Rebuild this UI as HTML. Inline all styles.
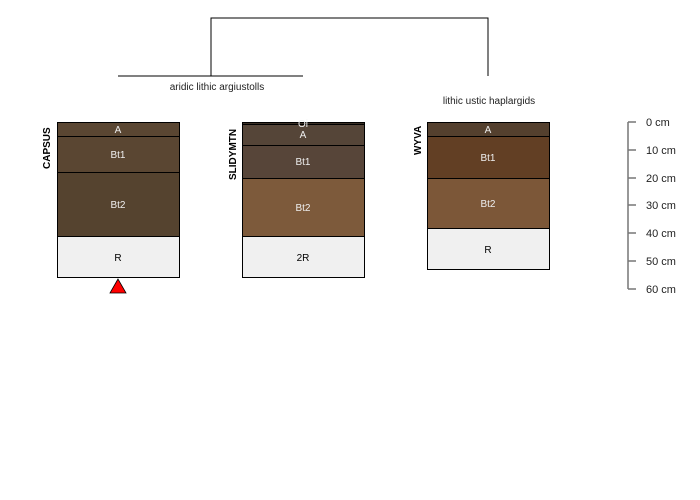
<!DOCTYPE html>
<html><head><style>html,body{margin:0;background:#fff;width:700px;height:500px;overflow:hidden}svg{display:block}</style></head><body>
<svg width="700" height="500" xmlns="http://www.w3.org/2000/svg" font-family="Liberation Sans, sans-serif">
<rect width="700" height="500" fill="#fff"/>
<g stroke="#000" stroke-width="1" fill="none" shape-rendering="crispEdges">
<path d="M211 76V18H488V76"/>
<path d="M118 76H303"/>
</g>
<text x="217" y="90" font-size="10" text-anchor="middle" fill="#222">aridic lithic argiustolls</text>
<text x="489" y="104" font-size="10" text-anchor="middle" fill="#222">lithic ustic haplargids</text>
<g stroke="#000" stroke-width="1" shape-rendering="crispEdges">
<rect x="57.5" y="122.5" width="122" height="14" fill="#5a4632"/>
<rect x="57.5" y="136.5" width="122" height="36" fill="#5a4632"/>
<rect x="57.5" y="172.5" width="122" height="64" fill="#55432f"/>
<rect x="57.5" y="236.5" width="122" height="41" fill="#f0f0f0"/>
<rect x="242.5" y="122.5" width="122" height="2" fill="#3a2f25"/>
<rect x="242.5" y="124.5" width="122" height="21" fill="#554538"/>
<rect x="242.5" y="145.5" width="122" height="33" fill="#574539"/>
<rect x="242.5" y="178.5" width="122" height="58" fill="#7d5a3b"/>
<rect x="242.5" y="236.5" width="122" height="41" fill="#f0f0f0"/>
<rect x="427.5" y="122.5" width="122" height="14" fill="#54402e"/>
<rect x="427.5" y="136.5" width="122" height="42" fill="#623f24"/>
<rect x="427.5" y="178.5" width="122" height="50" fill="#7c5738"/>
<rect x="427.5" y="228.5" width="122" height="41" fill="#f0f0f0"/>
</g>
<g font-size="10" text-anchor="middle" fill="#eee">
<text x="118" y="133">A</text><text x="118" y="158">Bt1</text><text x="118" y="208">Bt2</text>
<text x="118" y="261" fill="#000">R</text>
<text x="303" y="127">Oi</text><text x="303" y="138">A</text><text x="303" y="165">Bt1</text><text x="303" y="211">Bt2</text>
<text x="303" y="261" fill="#000">2R</text>
<text x="488" y="133">A</text><text x="488" y="161">Bt1</text><text x="488" y="207">Bt2</text>
<text x="488" y="253" fill="#000">R</text>
</g>
<g font-size="10" font-weight="bold" fill="#000">
<text transform="translate(50,169) rotate(-90)">CAPSUS</text>
<text transform="translate(236,180) rotate(-90)">SLIDYMTN</text>
<text transform="translate(421,155) rotate(-90)">WYVA</text>
</g>
<polygon points="118,279 110,293 126,293" fill="#f00" stroke="#000" stroke-width="0.8"/>
<g stroke="#777" stroke-width="1.5">
<path d="M628 122V289"/>
<path d="M628 122H636M628 150H636M628 178H636M628 205H636M628 233H636M628 261H636M628 289H636"/>
</g>
<g font-size="11" fill="#222">
<text x="646" y="126">0 cm</text><text x="646" y="154">10 cm</text><text x="646" y="182">20 cm</text>
<text x="646" y="209">30 cm</text><text x="646" y="237">40 cm</text><text x="646" y="265">50 cm</text><text x="646" y="293">60 cm</text>
</g>
</svg>
</body></html>
